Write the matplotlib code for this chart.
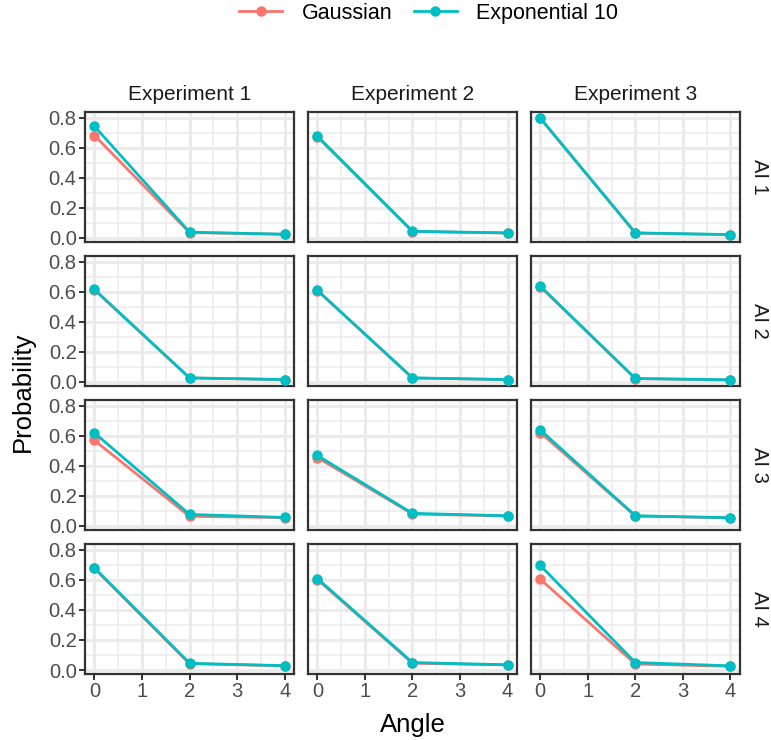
import matplotlib
matplotlib.use("Agg")
import matplotlib.pyplot as plt
from matplotlib.lines import Line2D
import numpy as np

plt.rcParams['font.family'] = ['Liberation Sans', 'DejaVu Sans']

# Probability per angle, rows = AI 1..4, columns = Experiment 1..3
angles = [0, 2, 4]
experiments = ['Experiment 1', 'Experiment 2', 'Experiment 3']
ais = ['AI 1', 'AI 2', 'AI 3', 'AI 4']

gaussian = [
    [[0.681, 0.035, 0.024], [0.672, 0.042, 0.032], [0.795, 0.032, 0.021]],
    [[0.612, 0.026, 0.015], [0.608, 0.026, 0.015], [0.634, 0.022, 0.013]],
    [[0.569, 0.064, 0.056], [0.455, 0.080, 0.066], [0.622, 0.066, 0.054]],
    [[0.676, 0.042, 0.028], [0.602, 0.045, 0.034], [0.605, 0.040, 0.025]],
]
exponential = [
    [[0.742, 0.038, 0.024], [0.677, 0.044, 0.033], [0.798, 0.033, 0.022]],
    [[0.615, 0.027, 0.016], [0.610, 0.027, 0.016], [0.637, 0.023, 0.014]],
    [[0.619, 0.077, 0.057], [0.469, 0.084, 0.068], [0.639, 0.068, 0.055]],
    [[0.679, 0.045, 0.029], [0.609, 0.050, 0.035], [0.696, 0.050, 0.028]],
]

series = [('Gaussian', gaussian, '#F8766D'), ('Exponential 10', exponential, '#00BFC4')]

# shared y scale with 5% padding, x padded by 5% too
allv = np.array(gaussian + exponential).ravel()
pad = 0.05 * (allv.max() - allv.min())
ylim = (allv.min() - pad, allv.max() + pad)
xlim = (-0.2, 4.2)

fig, axes = plt.subplots(4, 3, figsize=(7.71, 7.40), dpi=100, sharex=True, sharey=True)
fig.subplots_adjust(left=0.1102, right=0.9598, top=0.8486, bottom=0.0892,
                    wspace=0.065, hspace=0.11)

for i in range(4):
    for j in range(3):
        ax = axes[i, j]
        ax.set_facecolor('white')
        for name, data, col in series:
            ax.plot(angles, data[i][j], color=col, lw=2, marker='o', ms=6.5,
                    zorder=3, clip_on=False)
        ax.set_xlim(xlim)
        ax.set_ylim(ylim)
        ax.set_xticks([0, 1, 2, 3, 4])
        ax.set_xticks([0.5, 1.5, 2.5, 3.5], minor=True)
        ax.set_yticks([0, 0.2, 0.4, 0.6, 0.8])
        ax.set_yticks([0.1, 0.3, 0.5, 0.7], minor=True)
        ax.set_yticklabels(['0.0', '0.2', '0.4', '0.6', '0.8'])
        ax.grid(which='major', color='#EBEBEB', lw=2.2, zorder=0)
        ax.grid(which='minor', color='#EBEBEB', lw=1.1, zorder=0)
        ax.set_axisbelow(True)
        ax.tick_params(which='minor', length=0)
        ax.tick_params(which='major', length=4, width=1.4, color='#333333',
                       labelsize=14.5, labelcolor='#4D4D4D', pad=2)
        # only the outer panels carry ticks
        ax.tick_params(bottom=(i == 3), left=(j == 0))
        for s in ax.spines.values():
            s.set_color('#333333')
            s.set_linewidth(1.6)
        if i == 0:
            ax.set_title(experiments[j], fontsize=15, color='#1A1A1A', pad=9)
        if j == 2:
            ax.text(1.095, 0.5, ais[i], transform=ax.transAxes, rotation=-90,
                    ha='center', va='center', fontsize=14.5, color='#1A1A1A')

fig.text(0.030, 0.470, 'Probability', rotation=90, ha='center', va='center',
         fontsize=18.5, color='black')
fig.text(0.535, 0.020, 'Angle', ha='center', va='center', fontsize=18.5, color='black')

handles = [Line2D([], [], color=c, lw=2, marker='o', ms=6.5) for _, _, c in series]
fig.legend(handles, [n for n, _, _ in series], loc='center', ncol=2,
           bbox_to_anchor=(0.556, 0.982), frameon=False, fontsize=15.5,
           handlelength=2.0, columnspacing=1.0, handletextpad=0.9)

fig.savefig('out.png', dpi=100, facecolor='white')
